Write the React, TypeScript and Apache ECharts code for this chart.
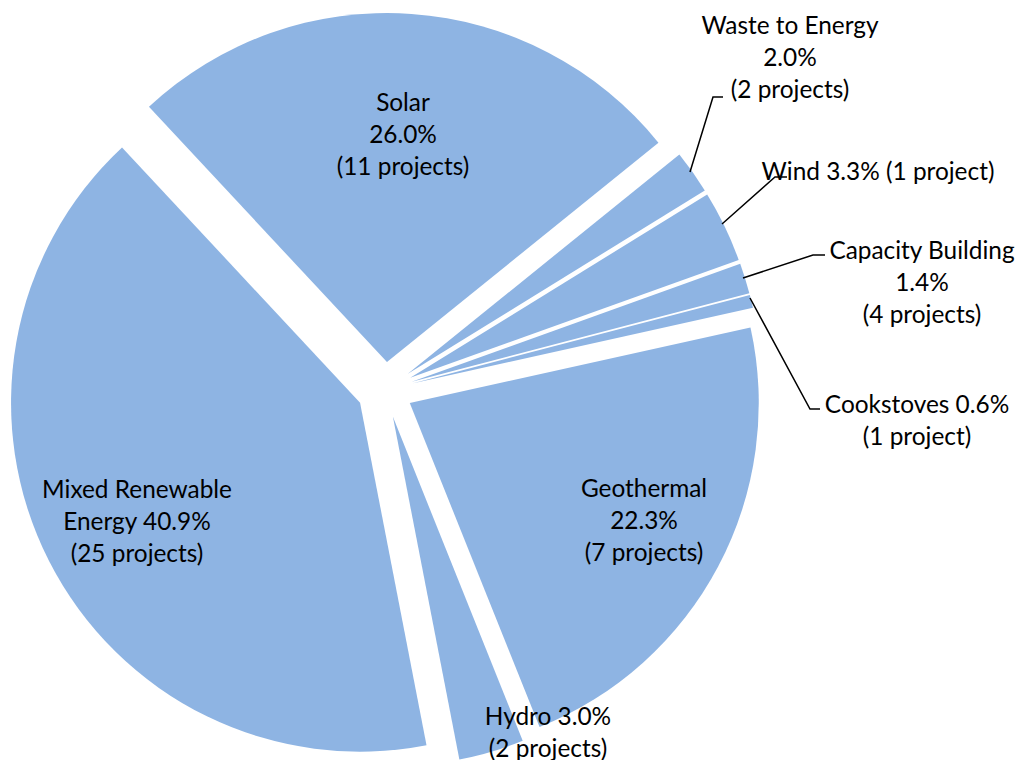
import React, { useEffect, useRef } from "react";
import * as echarts from "echarts";

// ---- data ----
const categories = [
  "Solar",
  "Waste to Energy",
  "Wind",
  "Capacity Building",
  "Cookstoves",
  "Geothermal",
  "Hydro",
  "Mixed Renewable Energy",
];
const shares = [26.0, 2.0, 3.3, 1.4, 0.6, 22.3, 3.0, 40.9];
const projectCounts = [11, 2, 1, 4, 1, 7, 2, 25];

// ---- label layout (presentation only) ----
const labelFormats = ["stack", "stack", "line", "stack", "pair", "stack", "pair", "wrap"];
const labelCenters: [number, number][] = [
  [403, 133],
  [790, 56],
  [878, 170],
  [922, 281],
  [917, 419],
  [644, 519],
  [548, 731],
  [137, 520],
];
const leaderLines: (number[][] | null)[] = [
  null,
  [[690, 172], [713, 97], [723, 97]],
  [[722, 224], [775, 177], [787, 177]],
  [[743, 278], [813, 255], [825, 255]],
  [[750, 298], [810, 409], [820, 409]],
  null,
  null,
  null,
];

const SLICE_COLOR = "#8EB4E3";
const FONT_FAMILY = "Lato, 'Open Sans', sans-serif";
const FONT_SIZE = 24.4;
const LINE_HEIGHT = 32;

function labelText(i: number): string {
  const name = categories[i];
  const pct = shares[i].toFixed(1) + "%";
  const n = projectCounts[i];
  const proj = `(${n} project${n === 1 ? "" : "s"})`;
  switch (labelFormats[i]) {
    case "line":
      return `${name} ${pct} ${proj}`;
    case "pair":
      return `${name} ${pct}\n${proj}`;
    case "wrap": {
      const k = name.lastIndexOf(" ");
      return `${name.slice(0, k)}\n${name.slice(k + 1)} ${pct}\n${proj}`;
    }
    default:
      return `${name}\n${pct}\n${proj}`;
  }
}

export default function App() {
  const ref = useRef<HTMLDivElement>(null);
  useEffect(() => {
    if (!ref.current) return;
    const chart = echarts.init(ref.current, undefined, { renderer: "svg" });
    const data = categories.map((name, i) => ({
      name,
      value: shares[i],
      selected: true,
    }));

    const graphics: any[] = [];
    categories.forEach((_, i) => {
      const pts = leaderLines[i];
      if (pts) {
        graphics.push({
          type: "polyline",
          silent: true,
          shape: { points: pts },
          style: { stroke: "#000000", lineWidth: 1.5, fill: null },
          z: 10,
        });
      }
      const [x, y] = labelCenters[i];
      graphics.push({
        type: "text",
        silent: true,
        x,
        y,
        z: 11,
        style: {
          text: labelText(i),
          fontFamily: FONT_FAMILY,
          fontSize: FONT_SIZE,
          lineHeight: LINE_HEIGHT,
          fill: "#000000",
          align: "center",
          verticalAlign: "middle",
        },
      });
    });

    chart.setOption({
      animation: false,
      backgroundColor: "#ffffff",
      graphic: graphics,
      series: [
        {
          type: "pie",
          center: [385, 390],
          radius: [0, 349],
          startAngle: 133,
          clockwise: true,
          selectedMode: "multiple",
          selectedOffset: 28,
          avoidLabelOverlap: false,
          silent: true,
          itemStyle: { color: SLICE_COLOR, borderWidth: 0 },
          select: { itemStyle: { color: SLICE_COLOR, borderWidth: 0 } },
          label: { show: false },
          labelLine: { show: false },
          data,
        },
      ],
    });
    return () => chart.dispose();
  }, []);
  return (
    <div
      ref={ref}
      style={{ position: "absolute", left: 0, top: 0, width: 1018, height: 760 }}
    />
  );
}
